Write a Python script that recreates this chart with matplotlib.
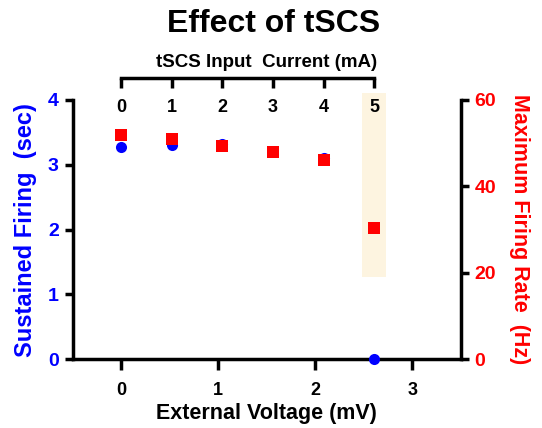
"""Effect of tSCS: sustained firing and max firing rate vs input current / external voltage"""
import matplotlib
matplotlib.use("Agg")
import matplotlib.pyplot as plt
from matplotlib.patches import Rectangle

plt.rcParams['font.family'] = ['Liberation Sans', 'DejaVu Sans']
plt.rcParams['font.weight'] = 'bold'

# values
current_blue = [0, 1, 2, 4, 5]          # mA
sustained_sec = [3.27, 3.31, 3.32, 3.11, 0.0]
current_red = [0, 1, 2, 3, 4, 5]        # mA
max_rate_hz = [52.0, 51.0, 49.4, 48.0, 46.1, 30.3]
voltage_ticks = [0, 1, 2, 3]
current_ticks = [0, 1, 2, 3, 4, 5]
mv_per_ma = 0.5216   # 5 mA lines up with ~2.6 mV

BLUE = '#0000FF'
RED = '#FF0000'
LW = 2.5

fig = plt.figure(figsize=(5.42, 4.28), dpi=100)
ax = fig.add_axes([0.134, 0.1605, 0.716, 0.606])
ax2 = ax.twinx()

# highlight for the 5 mA condition
ax.add_patch(Rectangle((4.76 * mv_per_ma, 19 / 15), 0.48 * mv_per_ma, (61.6 - 19) / 15,
                       facecolor='#FDF4E0', edgecolor='none', zorder=0, clip_on=False))

ax.plot([c * mv_per_ma for c in current_blue], sustained_sec, 'o', color=BLUE,
        markersize=8, markeredgewidth=0, clip_on=False, zorder=3)
ax2.plot([c * mv_per_ma for c in current_red], max_rate_hz, 's', color=RED,
         markersize=8, markeredgewidth=0, clip_on=False, zorder=3)

ax.set_xlim(-0.5, 3.5)
ax.set_ylim(0, 4)
ax2.set_ylim(0, 60)
ax.set_xticks(voltage_ticks)
ax.set_yticks([0, 1, 2, 3, 4])
ax2.set_yticks([0, 20, 40, 60])

for a in (ax, ax2):
    for s in a.spines.values():
        s.set_linewidth(LW)
    a.spines['top'].set_visible(False)
ax.spines['right'].set_visible(False)
ax2.spines['left'].set_visible(False)
ax2.spines['bottom'].set_visible(False)

ax.tick_params(axis='x', length=8, width=LW, pad=8, labelsize=13, colors='black')
ax.tick_params(axis='y', length=6, width=LW, pad=4, labelsize=14, labelcolor=BLUE)
ax2.tick_params(axis='y', length=6, width=LW, pad=4, labelsize=14, labelcolor=RED)

ax.set_xlabel("External Voltage (mV)", fontsize=15.5, fontweight='bold', labelpad=3)
ax.set_ylabel("Sustained Firing  (sec)", fontsize=17, fontweight='bold', color=BLUE, labelpad=8)
ax2.set_ylabel("Maximum Firing Rate  (Hz)", fontsize=15.5, fontweight='bold', color=RED,
               rotation=270, labelpad=24)

# top axis for the input current
axt = fig.add_axes([0.134, 0.817, 0.716, 0.01])
axt.patch.set_visible(False)
axt.set_xlim(-0.5 / mv_per_ma, 3.5 / mv_per_ma)
axt.set_yticks([])
for side in ('top', 'left', 'right'):
    axt.spines[side].set_visible(False)
axt.spines['bottom'].set_linewidth(LW)
axt.spines['bottom'].set_bounds(0, 5)
axt.set_xticks(current_ticks)
axt.tick_params(axis='x', length=7, width=LW, pad=8, labelsize=13)
axt.set_title("tSCS Input  Current (mA)", fontsize=13.5, fontweight='bold', pad=5)

fig.text(0.505, 0.945, "Effect of tSCS", ha='center', va='center', fontsize=23, fontweight='bold')

plt.savefig("out.png", dpi=100)
